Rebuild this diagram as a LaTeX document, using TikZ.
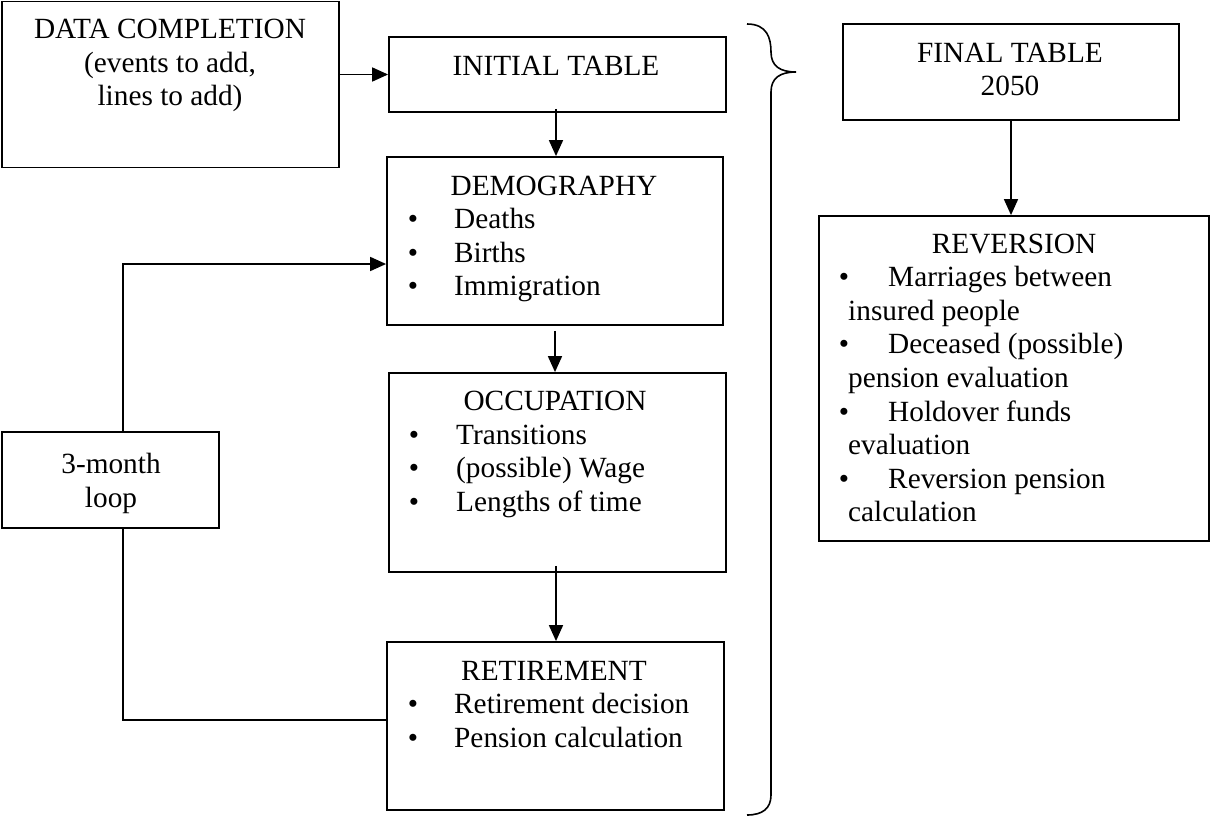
\documentclass[tikz,border=0pt]{standalone}
\usepackage{fontspec}
\setmainfont{Liberation Serif}
\usetikzlibrary{arrows.meta}
\begin{document}
\begin{tikzpicture}[x=1pt,y=-1pt,
  box/.style={draw, line width=1.8pt, inner sep=0pt, rectangle},
  arr/.style={line width=1.7pt, -{Triangle[length=16pt,width=14pt]}},
  conn/.style={line width=1.7pt},
  txt/.style={inner sep=0pt, anchor=base, font=\fontsize{29.3pt}{33.5pt}\selectfont},
  lft/.style={txt, anchor=base west}]
\useasboundingbox (0,0) rectangle (1210,817);

% boxes
\node[box, minimum width=337pt, minimum height=166pt] (data) at (170.5,84.5) {};
\node[box, minimum width=337pt, minimum height=75pt] (init) at (557.5,74.5) {};
\node[box, minimum width=336pt, minimum height=168pt] (demo) at (555,241) {};
\node[box, minimum width=337pt, minimum height=199pt] (occ) at (557.5,472.5) {};
\node[box, minimum width=337pt, minimum height=168pt] (ret) at (555.5,726) {};
\node[box, minimum width=217pt, minimum height=96pt] (loop) at (110.5,480) {};
\node[box, minimum width=336pt, minimum height=96pt] (final) at (1011,72) {};
\node[box, minimum width=390pt, minimum height=325pt] (rev) at (1014,378.5) {};

% texts
\node[txt] (dt1) at (170,38) {DATA COMPLETION};
\node[txt] (dt2) at (170,72) {(events to add,};
\node[txt] (dt3) at (170,105) {lines to add)};

\node[txt] (it1) at (556,75) {INITIAL TABLE};

\node[txt] (de0) at (554,195) {DEMOGRAPHY};
\node[txt] (deb1) at (413,228.5) {•};
\node[txt] (deb2) at (413,262) {•};
\node[txt] (deb3) at (413,295.5) {•};
\node[lft] (de1) at (454,228.5) {Deaths};
\node[lft] (de2) at (454,262) {Births};
\node[lft] (de3) at (454,295.5) {Immigration};

\node[txt] (oc0) at (555,410) {OCCUPATION};
\node[txt] (ocb1) at (414,444) {•};
\node[txt] (ocb2) at (414,477.5) {•};
\node[txt] (ocb3) at (414,511) {•};
\node[lft] (oc1) at (456,444) {Transitions};
\node[lft] (oc2) at (456,477.5) {(possible) Wage};
\node[lft] (oc3) at (456,511) {Lengths of time};

\node[txt] (re0) at (554,680) {RETIREMENT};
\node[txt] (reb1) at (413,713.5) {•};
\node[txt] (reb2) at (413,747) {•};
\node[lft] (re1) at (454,713.5) {Retirement decision};
\node[lft] (re2) at (454,747) {Pension calculation};

\node[txt] (lo1) at (111,473) {3-month};
\node[txt] (lo2) at (111,507) {loop};

\node[txt] (fi1) at (1010,62) {FINAL TABLE};
\node[txt] (fi2) at (1010,95) {2050};

\node[txt] (rv0) at (1014,253) {REVERSION};
\node[txt] (rvb1) at (844,286.6) {•};
\node[lft] (rv1) at (888,286.6) {Marriages between};
\node[lft] (rv2) at (848,320.2) {insured people};
\node[txt] (rvb2) at (844,353.8) {•};
\node[lft] (rv3) at (888,353.8) {Deceased (possible)};
\node[lft] (rv4) at (848,387.4) {pension evaluation};
\node[txt] (rvb3) at (844,421) {•};
\node[lft] (rv5) at (888,421) {Holdover funds};
\node[lft] (rv6) at (848,454.6) {evaluation};
\node[txt] (rvb4) at (844,488.2) {•};
\node[lft] (rv7) at (888,488.2) {Reversion pension};
\node[lft] (rv8) at (848,521.8) {calculation};

% connectors
\draw[arr] (init.west -| data.east) -- (init.west);
\draw[arr] ([xshift=-1.5pt,yshift=4pt]init.south) -- ([xshift=-1.5pt]init.south |- demo.north);
\draw[arr] ([yshift=-5pt]demo.south) -- (demo.south |- occ.north);
\draw[arr] ([xshift=-1.5pt,yshift=7pt]occ.south) -- ([xshift=-1.5pt]occ.south |- ret.north);
\draw[conn] ([yshift=6pt]ret.west) -| ([xshift=12.5pt]loop.south);
\draw[arr] ([xshift=12.5pt]loop.north) |- ([yshift=-23pt]demo.west);
\draw[arr] (final.south) -- (final.south |- rev.north);

% brace
\coordinate (btop) at (747,24);
\coordinate (btip) at (796,72);
\coordinate (bbot) at (747,815);
\draw[line width=1.6pt] (btop) .. controls (767,24) and (771,38) .. (771,52)
  .. controls (771,66) and (780,72) .. (btip)
  .. controls (780,72) and (771,78) .. (771,92)
  -- (771,795) .. controls (771,808) and (763,815) .. (bbot);
\end{tikzpicture}
\end{document}
